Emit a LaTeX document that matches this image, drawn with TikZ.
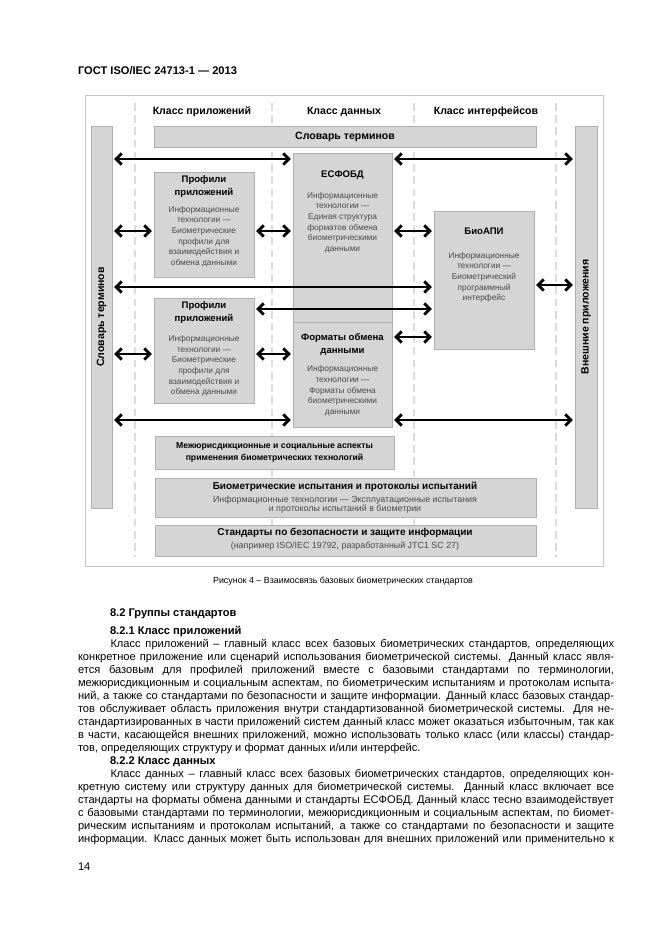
\documentclass[tikz,border=0pt]{standalone}
\usepackage{fontspec}
\setmainfont{Liberation Sans}
\usetikzlibrary{arrows.meta,fit}
\definecolor{boxfill}{HTML}{D5D5D5}
\definecolor{boxline}{HTML}{B0B0B0}
\definecolor{framec}{HTML}{C8C8C8}
\definecolor{dashc}{HTML}{DCDCDC}
\definecolor{subtxt}{HTML}{4A4A4A}
\newcommand{\bodyf}{\fontsize{10}{13}\selectfont}
\begin{document}
\begin{tikzpicture}[x=0.9pt,y=-0.9pt,
  every node/.style={inner sep=0pt, outer sep=0pt},
  box/.style={draw=boxline, fill=boxfill, line width=0.6pt},
  framebox/.style={draw=framec, line width=0.7pt},
  dashline/.style={draw=dashc, line width=1.3pt, dash pattern=on 7pt off 4pt},
  arr/.style={line width=2.5pt, {Straight Barb[length=5pt,width=10pt]}-{Straight Barb[length=5pt,width=10pt]}, shorten >=2pt, shorten <=2pt},
  ttl/.style={font=\bfseries\fontsize{8.6}{11.4}\selectfont, align=center},
  sub/.style={font=\fontsize{7.5}{9.6}\selectfont, text=subtxt, align=center},
  colhead/.style={font=\bfseries\fontsize{9.5}{11}\selectfont},
  bodyline/.style={anchor=base west, font=\bodyf},
  headline/.style={anchor=base west, font=\bfseries\bodyf}]
\useasboundingbox (0,0) rectangle (661,935);
\fill[white] (0,0) rectangle (661,935);

% page header
\node[anchor=base west, font=\bfseries\fontsize{10}{12}\selectfont] (gost) at (78,74) {ГОСТ ISO/IEC 24713-1 — 2013};

% frame
\node[framebox, fit={(85,95) (603,566)}] (frame) {};

% dashed column separators
\foreach \xx in {135,272,414,556} \draw[dashline] (\xx,103) -- (\xx,557);

% column headers
\node[colhead] (h1) at (202,111.5) {Класс приложений};
\node[colhead] (h2) at (344,111.5) {Класс данных};
\node[colhead] (h3) at (486,111.5) {Класс интерфейсов};

% bars
\node[box, fit={(154,126) (536,147)}] (topbar) {};
\node[font=\bfseries\fontsize{9.5}{11}\selectfont] at (topbar.center) {Словарь терминов};
\node[box, fit={(91,126) (112,508)}] (lbar) {};
\node[rotate=90, font=\bfseries\fontsize{9.5}{11}\selectfont] at (lbar.center) {Словарь терминов};
\node[box, fit={(575,126) (597,508)}] (rbar) {};
\node[rotate=90, font=\bfseries\fontsize{9.5}{11}\selectfont] at (rbar.center) {Внешние приложения};

% main boxes
\node[box, fit={(154,172) (254,277)}] (prof1) {};
\node[ttl] (prof1t) at (204,186.4) {Профили\\приложений};
\node[sub] (prof1s) at (204,236.7) {Информационные\\технологии —\\Биометрические\\профили для\\взаимодействия и\\обмена данными};

\node[box, fit={(154,298) (254,403)}] (prof2) {};
\node[ttl] (prof2t) at (204,312.2) {Профили\\приложений};
\node[sub] (prof2s) at (204,366) {Информационные\\технологии —\\Биометрические\\профили для\\взаимодействия и\\обмена данными};

\node[box, fit={(293,153) (392,322)}] (esf) {};
\node[ttl] (esft) at (342.5,175) {ЕСФОБД};
\node[sub] (esfs) at (342.5,222.7) {Информационные\\технологии —\\Единая структура\\форматов обмена\\биометрическими\\данными};

\node[box, fit={(293,322) (392,427)}] (fmt) {};
\node[ttl] (fmtt) at (342.5,344.2) {Форматы обмена\\данными};
\node[sub] (fmts) at (342.5,390.9) {Информационные\\технологии —\\Форматы обмена\\биометрическими\\данными};

\node[box, fit={(434,211) (534,349)}] (bio) {};
\node[ttl] (biot) at (484,231.7) {БиоАПИ};
\node[sub] (bios) at (484,277.5) {Информационные\\технологии —\\Биометрический\\программный\\интерфейс};

% bottom boxes
\node[box, fit={(155,436) (394,469)}] (mezh) {};
\node[font=\bfseries\fontsize{7.8}{10.4}\selectfont, align=center] (mezht) at (mezh.center) {Межюрисдикционные и социальные аспекты\\применения биометрических технологий};

\node[box, fit={(155,478) (536,517)}] (test) {};
\node[font=\bfseries\fontsize{9}{11}\selectfont] (testt) at (345,486.7) {Биометрические испытания и протоколы испытаний};
\node[font=\fontsize{8}{8.6}\selectfont, text=subtxt, align=center] (tests) at (345,504.7) {Информационные технологии — Эксплуатационные испытания\\и протоколы испытаний в биометрии};

\node[box, fit={(155,525) (536,556)}] (sec) {};
\node[font=\bfseries\fontsize{9}{11}\selectfont] (sect) at (345,533.3) {Стандарты по безопасности и защите информации};
\node[font=\fontsize{8}{10}\selectfont, text=subtxt] (secs) at (345,546) {(например ISO/IEC 19792, разработанный JTC1 SC 27)};

% arrow rows
\coordinate (r1) at (0,159);
\coordinate (r2) at (0,231);
\coordinate (r3) at (0,287);
\coordinate (r3b) at (0,285);
\coordinate (r4) at (0,309);
\coordinate (r5) at (0,337);
\coordinate (r6) at (0,354);
\coordinate (r7) at (0,420);

\draw[arr] (lbar.east |- r1) -- (esf.west |- r1);
\draw[arr] (esf.east |- r1) -- (rbar.west |- r1);
\draw[arr] (lbar.east |- r2) -- (prof1.west |- r2);
\draw[arr] (prof1.east |- r2) -- (esf.west |- r2);
\draw[arr] (esf.east |- r2) -- (bio.west |- r2);
\draw[arr] (lbar.east |- r3) -- (bio.west |- r3);
\draw[arr] (bio.east |- r3b) -- (rbar.west |- r3b);
\draw[arr] (prof2.east |- r4) -- (bio.west |- r4);
\draw[arr] (fmt.east |- r5) -- (bio.west |- r5);
\draw[arr] (lbar.east |- r6) -- (prof2.west |- r6);
\draw[arr] (prof2.east |- r6) -- (fmt.west |- r6);
\draw[arr] (lbar.east |- r7) -- (fmt.west |- r7);
\draw[arr] (fmt.east |- r7) -- (rbar.west |- r7);

% caption
\node[anchor=base, font=\fontsize{8}{10}\selectfont] (cap) at (343,583) {Рисунок 4 – Взаимосвязь базовых биометрических стандартов};

% text
\node[headline] (s82) at (110,616) {8.2 Группы стандартов};
\node[headline] (s821) at (110,634.5) {8.2.1 Класс приложений};
\node[bodyline] (a1) at (110.5,647) {\makebox[453.2pt][s]{Класс приложений – главный класс всех базовых биометрических стандартов, определяющих}};
\node[bodyline] (a2) at (78,660) {\makebox[482.4pt][s]{конкретное приложение или сценарий использования биометрической системы. Данный класс явля-}};
\node[bodyline] (a3) at (78,673) {\makebox[482.4pt][s]{ется базовым для профилей приложений вместе с базовыми стандартами по терминологии,}};
\node[bodyline] (a4) at (78,686) {\makebox[482.4pt][s]{межюрисдикционным и социальным аспектам, по биометрическим испытаниям и протоколам испыта-}};
\node[bodyline] (a5) at (78,699) {\makebox[482.4pt][s]{ний, а также со стандартами по безопасности и защите информации. Данный класс базовых стандар-}};
\node[bodyline] (a6) at (78,712) {\makebox[482.4pt][s]{тов обслуживает область приложения внутри стандартизованной биометрической системы. Для не-}};
\node[bodyline] (a7) at (78,725) {\makebox[482.4pt][s]{стандартизированных в части приложений систем данный класс может оказаться избыточным, так как}};
\node[bodyline] (a8) at (78,738) {\makebox[482.4pt][s]{в части, касающейся внешних приложений, можно использовать только класс (или классы) стандар-}};
\node[bodyline] (a9) at (78,751) {тов, определяющих структуру и формат данных и/или интерфейс.};
\node[headline] (s822) at (110,764) {8.2.2 Класс данных};
\node[bodyline] (b1) at (110.5,777) {\makebox[453.2pt][s]{Класс данных – главный класс всех базовых биометрических стандартов, определяющих кон-}};
\node[bodyline] (b2) at (78,790) {\makebox[482.4pt][s]{кретную систему или структуру данных для биометрической системы. Данный класс включает все}};
\node[bodyline] (b3) at (78,803) {\makebox[482.4pt][s]{стандарты на форматы обмена данными и стандарты ЕСФОБД. Данный класс тесно взаимодействует}};
\node[bodyline] (b4) at (78,816) {\makebox[482.4pt][s]{с базовыми стандартами по терминологии, межюрисдикционным и социальным аспектам, по биомет-}};
\node[bodyline] (b5) at (78,829) {\makebox[482.4pt][s]{рическим испытаниям и протоколам испытаний, а также со стандартами по безопасности и защите}};
\node[bodyline] (b6) at (78,842) {\makebox[482.4pt][s]{информации. Класс данных может быть использован для внешних приложений или применительно к}};
\node[bodyline] (pg) at (78,870) {14};
\end{tikzpicture}
\end{document}
